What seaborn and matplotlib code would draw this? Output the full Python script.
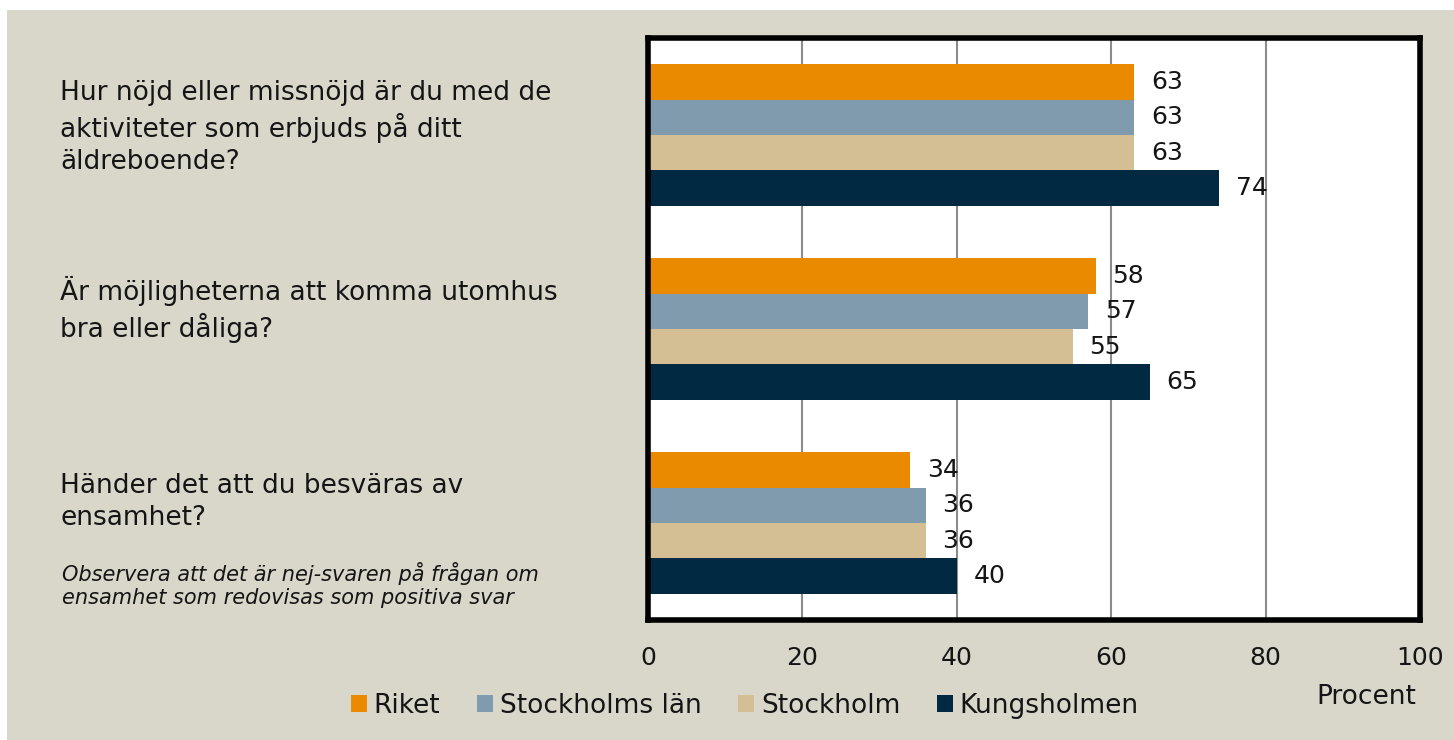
import pandas as pd
import matplotlib.pyplot as plt
import seaborn as sns
from matplotlib.patches import Rectangle
import matplotlib.transforms as mtransforms

# Data
questions = [
    "Hur nöjd eller missnöjd är du med de\naktiviteter som erbjuds på ditt\näldreboende?",
    "Är möjligheterna att komma utomhus\nbra eller dåliga?",
    "Händer det att du besväras av\nensamhet?",
]
areas = ["Riket", "Stockholms län", "Stockholm", "Kungsholmen"]
riket = [63, 58, 34]
stockholms_lan = [63, 57, 36]
stockholm = [63, 55, 36]
kungsholmen = [74, 65, 40]
colors = ["#EA8A00", "#7F9BAD", "#D4BF95", "#012A42"]
note = "Observera att det är nej-svaren på frågan om\nensamhet som redovisas som positiva svar"
xticks = [0, 20, 40, 60, 80, 100]

# Long format for seaborn
rows = []
for area, vals in zip(areas, [riket, stockholms_lan, stockholm, kungsholmen]):
    for q, v in zip(questions, vals):
        rows.append({"Fråga": q, "Område": area, "Procent": v})
df = pd.DataFrame(rows)

sns.set_style("white")
plt.rcParams['font.family'] = ['DejaVu Sans']

bg = "#D9D6CA"
txt = "#151515"
fig = plt.figure(figsize=(14.54, 7.40), dpi=100, facecolor="white")
fig.patches.append(Rectangle((7 / 1454, 0), 1, 1 - 10 / 740, transform=fig.transFigure,
                             facecolor=bg, edgecolor="none", zorder=-10))

ax = fig.add_axes([648 / 1454, 1 - 620 / 740, (1420 - 648) / 1454, (620 - 38) / 740])
ax.set_facecolor("white")

sns.barplot(data=df, y="Fråga", x="Procent", hue="Område", hue_order=areas,
            order=questions, palette=colors, orient="h", width=0.73,
            saturation=1, linewidth=0, ax=ax, legend=True)

for cont in ax.containers:
    ax.bar_label(cont, fmt="%d", padding=12, fontsize=18, color=txt)

ax.set_xlim(0, 100)
ax.set_ylim(2.5, -0.5)
ax.set_xticks(xticks)
ax.set_xticklabels([str(t) for t in xticks], fontsize=18, color=txt)
ax.tick_params(axis="x", length=0, pad=19)
ax.set_yticks([])
ax.set_xlabel("")
ax.set_ylabel("")
ax.grid(axis="x", color="#8C8C8C", linewidth=1.5)
ax.set_axisbelow(True)
for s in ax.spines.values():
    s.set_visible(True)
    s.set_color("black")
    s.set_linewidth(4)

# Question texts on the left
trans = mtransforms.blended_transform_factory(fig.transFigure, ax.transData)
offsets = [-0.04, -0.1, -0.11]
for i, q in enumerate(questions):
    ax.text(60 / 1454, i + offsets[i], q, transform=trans, ha="left", va="center",
            fontsize=19, color=txt, linespacing=1.3)
ax.text(62 / 1454, 1 - 585 / 740, note, transform=fig.transFigure, ha="left", va="center",
        fontsize=15, style="italic", color=txt, linespacing=1.15)

# Legend at the bottom
handles, labels = ax.get_legend_handles_labels()
ax.legend_.remove()
fig.legend(handles, labels, loc="center", bbox_to_anchor=(745 / 1454, 1 - 706 / 740),
           ncol=4, frameon=False, fontsize=19, handlelength=0.6, handleheight=0.6,
           handletextpad=0.25, columnspacing=1.4, labelcolor=txt)

fig.text(1416 / 1454, 1 - 697 / 740, "Procent", ha="right", va="center",
         fontsize=19, color=txt)

fig.savefig("out.png", dpi=100, facecolor=fig.get_facecolor())
